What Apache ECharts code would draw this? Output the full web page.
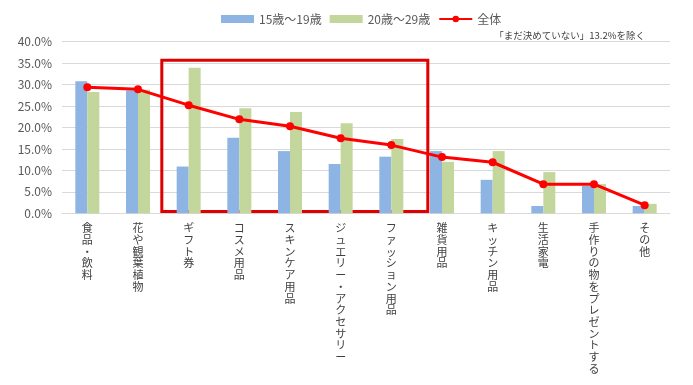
<!DOCTYPE html>
<html><head><meta charset="utf-8">
<script src="https://cdn.jsdelivr.net/npm/echarts@6/dist/echarts.min.js"></script>
<style>html,body{margin:0;padding:0;background:#fff}#c{width:693px;height:385px}</style>
</head><body><div id="c"></div>
<script>
const categories = ['食品・飲料','花や観葉植物','ギフト券','コスメ用品','スキンケア用品','ジュエリー・アクセサリー','ファッション用品','雑貨用品','キッチン用品','生活家電','手作りの物をプレゼントする','その他'];
const teens = [30.8, 28.6, 10.9, 17.6, 14.5, 11.5, 13.2, 14.5, 7.8, 1.7, 6.4, 1.7];
const twenties = [28.3, 28.8, 33.9, 24.5, 23.6, 21.0, 17.3, 12.0, 14.5, 9.6, 6.8, 2.2];
const total = [29.4, 28.9, 25.2, 21.9, 20.3, 17.5, 15.9, 13.1, 11.9, 6.8, 6.8, 1.9];
const seriesNames = ['15歳～19歳', '20歳～29歳', '全体'];
const note = '「まだ決めていない」13.2%を除く';
// highlight box in category-index units (x) and percent (y)
const boxX = [1.97, 7.22];
const boxY = [0.4, 35.7];

const font = 'Meiryo, "Noto Sans CJK JP", sans-serif';
const chart = echarts.init(document.getElementById('c'));
chart.setOption({
  animation: false,
  textStyle: { fontFamily: font },
  title: {
    text: note, right: 43, top: 26,
    textStyle: { fontSize: 9.5, fontWeight: 'normal', color: '#404040', fontFamily: font }
  },
  legend: {
    top: 8, left: 216, itemGap: 8,
    textStyle: { fontSize: 12, color: '#595959', fontFamily: font },
    data: [
      { name: seriesNames[0], icon: 'rect', itemWidth: 25, itemHeight: 8 },
      { name: seriesNames[1], icon: 'rect', itemWidth: 25, itemHeight: 8 },
      { name: seriesNames[2] }
    ],
    itemWidth: 33, itemHeight: 8
  },
  grid: { left: 62, right: 23, top: 41.7, bottom: 171.7 },
  xAxis: [{
    type: 'category', data: categories,
    axisLine: { lineStyle: { color: '#D9D9D9' } },
    axisTick: { show: false },
    axisLabel: {
      interval: 0, margin: 9, color: '#404040', fontSize: 11, lineHeight: 11.7,
      verticalAlign: 'top', fontFamily: font,
      formatter: v => v.split('').join('\n')
    }
  }, {
    type: 'value', min: 0, max: categories.length, show: false
  }],
  yAxis: {
    type: 'value', min: 0, max: 40, interval: 5,
    axisLine: { show: false }, axisTick: { show: false },
    splitLine: { lineStyle: { color: '#D9D9D9' } },
    axisLabel: { color: '#595959', fontSize: 12, margin: 10, formatter: v => v.toFixed(1) + '%' }
  },
  series: [
    { name: seriesNames[0], type: 'bar', data: teens, barWidth: 12, barGap: '0%', itemStyle: { color: '#8EB4E3' } },
    { name: seriesNames[1], type: 'bar', data: twenties, barWidth: 12, barGap: '0%', itemStyle: { color: '#C3D69B' } },
    { name: seriesNames[2], type: 'line', data: total, z: 5,
      symbol: 'circle', symbolSize: 8,
      lineStyle: { color: '#FF0000', width: 3 }, itemStyle: { color: '#FF0000' } },
    { type: 'line', xAxisIndex: 1, data: [], silent: true,
      markArea: {
        silent: true,
        itemStyle: { color: 'rgba(0,0,0,0)', borderColor: '#E00000', borderWidth: 3 },
        data: [[{ xAxis: boxX[0], yAxis: boxY[1] }, { xAxis: boxX[1], yAxis: boxY[0] }]]
      } }
  ]
});
</script></body></html>
